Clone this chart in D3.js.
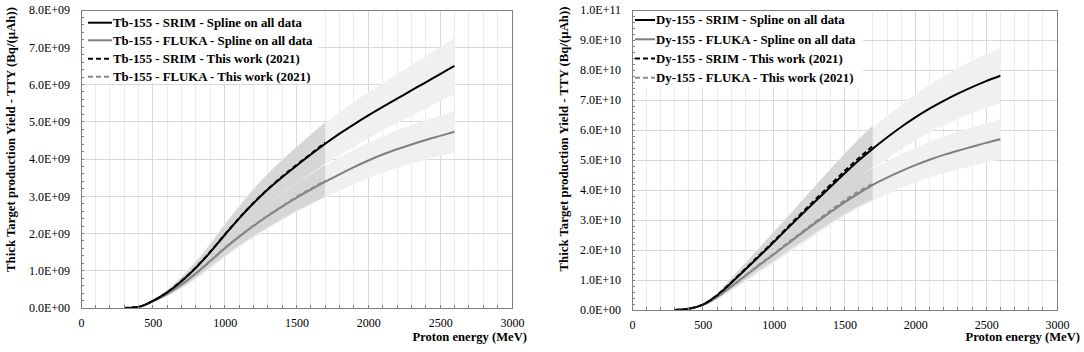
<!DOCTYPE html>
<html><head><meta charset="utf-8">
<script src="https://cdn.jsdelivr.net/npm/d3@7/dist/d3.min.js"></script>
<style>
body{margin:0;background:#fff;}
svg{display:block;}
</style></head><body>
<svg id="chart" width="1084" height="352"></svg>
<script>
// ---------- DATA ----------
const energies = [300,400,500,600,700,800,900,1000,1100,1200,1300,1400,1500,1600,1700,1800,1900,2000,2100,2200,2300,2400,2500,2600];
const energiesThisWork = [300,400,500,600,700,800,900,1000,1100,1200,1300,1400,1500,1600,1700];

// Tb-155 (Bq/(µAh))
const tbSrimSpline  = [0,0.03e9,0.19e9,0.42e9,0.72e9,1.08e9,1.50e9,1.96e9,2.40e9,2.81e9,3.18e9,3.51e9,3.82e9,4.12e9,4.41e9,4.68e9,4.93e9,5.17e9,5.40e9,5.62e9,5.84e9,6.06e9,6.28e9,6.50e9];
const tbFlukaSpline = [0,0.03e9,0.18e9,0.38e9,0.63e9,0.93e9,1.26e9,1.60e9,1.91e9,2.20e9,2.47e9,2.72e9,2.96e9,3.18e9,3.39e9,3.59e9,3.78e9,3.96e9,4.12e9,4.26e9,4.39e9,4.51e9,4.62e9,4.73e9];
const tbSrimThisWork  = [0,0.03e9,0.19e9,0.42e9,0.73e9,1.09e9,1.51e9,1.97e9,2.41e9,2.82e9,3.19e9,3.53e9,3.84e9,4.14e9,4.44e9];
const tbFlukaThisWork = [0,0.03e9,0.18e9,0.38e9,0.63e9,0.93e9,1.27e9,1.61e9,1.92e9,2.21e9,2.48e9,2.73e9,2.98e9,3.20e9,3.42e9];

// Dy-155 (Bq/(µAh))
const dySrimSpline  = [0,0.04e10,0.18e10,0.48e10,0.90e10,1.35e10,1.80e10,2.26e10,2.73e10,3.19e10,3.65e10,4.10e10,4.55e10,4.98e10,5.38e10,5.75e10,6.10e10,6.42e10,6.71e10,6.97e10,7.21e10,7.43e10,7.63e10,7.81e10];
const dyFlukaSpline = [0,0.04e10,0.17e10,0.43e10,0.78e10,1.14e10,1.50e10,1.85e10,2.21e10,2.57e10,2.92e10,3.26e10,3.59e10,3.89e10,4.17e10,4.41e10,4.63e10,4.83e10,5.01e10,5.17e10,5.31e10,5.44e10,5.57e10,5.69e10];
const dySrimThisWork  = [0,0.04e10,0.18e10,0.49e10,0.92e10,1.37e10,1.83e10,2.29e10,2.77e10,3.24e10,3.71e10,4.17e10,4.63e10,5.06e10,5.47e10];
const dyFlukaThisWork = [0,0.04e10,0.17e10,0.43e10,0.79e10,1.15e10,1.52e10,1.87e10,2.24e10,2.60e10,2.96e10,3.31e10,3.65e10,3.95e10,4.21e10];

// relative uncertainty bands
const splineUnc   = [0.20,0.20,0.20,0.20,0.19,0.18,0.17,0.16,0.15,0.145,0.14,0.135,0.13,0.128,0.126,0.124,0.122,0.12,0.118,0.118,0.117,0.117,0.117,0.117];
const thisWorkUnc = [0.13,0.13,0.13,0.13,0.13,0.13,0.13,0.13,0.125,0.125,0.125,0.125,0.125,0.125,0.125];

// ticks and labels
const xTickValues = [0,500,1000,1500,2000,2500,3000];
const tbYTickValues = [0,1e9,2e9,3e9,4e9,5e9,6e9,7e9,8e9];
const dyYTickValues = [0,1e10,2e10,3e10,4e10,5e10,6e10,7e10,8e10,9e10,1e11];
const tbLegendLabels = ["Tb-155 - SRIM - Spline on all data","Tb-155 - FLUKA - Spline on all data","Tb-155 - SRIM - This work (2021)","Tb-155 - FLUKA - This work (2021)"];
const dyLegendLabels = ["Dy-155 - SRIM - Spline on all data","Dy-155 - FLUKA - Spline on all data","Dy-155 - SRIM - This work (2021)","Dy-155 - FLUKA - This work (2021)"];
const xTitle = "Proton energy (MeV)";
const yTitle = "Thick Target production Yield - TTY (Bq/(µAh))";

// ---------- DRAW ----------
const FONT = "'Liberation Serif','Times New Roman',serif";
const svg = d3.select("#chart");

function sci(v){
  if (v === 0) return "0.0E+00";
  let e = Math.floor(Math.log10(v) + 1e-9);
  let m = v / Math.pow(10, e);
  return m.toFixed(1) + "E+" + String(e).padStart(2, "0");
}

const panels = [
  {left:81, right:512, top:10, bottom:308, yMax:8e9, yTicks:tbYTickValues,
   srim:tbSrimSpline, fluka:tbFlukaSpline, srimTW:tbSrimThisWork, flukaTW:tbFlukaThisWork,
   legend:tbLegendLabels, legX0:88, legX1:112, legText:113, legRows:[22.7,40.3,58.8,76.7], legBox:[82,11,318,83],
   yTitleX:10, yTitleY:139.5, xTitleRight:527},
  {left:632, right:1057, top:10, bottom:310, yMax:1e11, yTicks:dyYTickValues,
   srim:dySrimSpline, fluka:dyFlukaSpline, srimTW:dySrimThisWork, flukaTW:dyFlukaThisWork,
   legend:dyLegendLabels, legX0:635, legX1:655, legText:656, legRows:[20,39.3,58.5,77.7], legBox:[633,11,863,87],
   yTitleX:563, yTitleY:139, xTitleRight:1080}
];

panels.forEach(p => {
  const x = d3.scaleLinear().domain([0,3000]).range([p.left,p.right]);
  const y = d3.scaleLinear().domain([0,p.yMax]).range([p.bottom,p.top]);
  const g = svg.append("g");

  // gridlines
  g.append("g").selectAll("line").data(x.ticks(30)).join("line")
    .attr("x1", d=>x(d)).attr("x2", d=>x(d)).attr("y1", p.top).attr("y2", p.bottom)
    .attr("stroke", "#ececec").attr("stroke-width", 1).attr("shape-rendering","crispEdges");
  g.append("g").selectAll("line").data(xTickValues).join("line")
    .attr("x1", d=>x(d)).attr("x2", d=>x(d)).attr("y1", p.top).attr("y2", p.bottom)
    .attr("stroke", "#d9d9d9").attr("stroke-width", 1).attr("shape-rendering","crispEdges");
  g.append("g").selectAll("line").data(p.yTicks).join("line")
    .attr("x1", p.left).attr("x2", p.right).attr("y1", d=>y(d)).attr("y2", d=>y(d))
    .attr("stroke", "#d9d9d9").attr("stroke-width", 1).attr("shape-rendering","crispEdges");

  // bands
  const band = (vals, unc, ens) => d3.area()
    .x((d,i)=>x(ens[i]))
    .y0((d,i)=>y(vals[i]*(1-unc[i])))
    .y1((d,i)=>y(vals[i]*(1+unc[i])))
    .curve(d3.curveMonotoneX)(vals);
  g.append("path").attr("d", band(p.srim, splineUnc, energies)).attr("fill", "#f0f0f0");
  g.append("path").attr("d", band(p.fluka, splineUnc, energies)).attr("fill", "#f0f0f0");
  g.append("path").attr("d", band(p.srimTW, thisWorkUnc, energiesThisWork)).attr("fill", "#d6d6d6");
  g.append("path").attr("d", band(p.flukaTW, thisWorkUnc, energiesThisWork)).attr("fill", "#d6d6d6");

  // curves
  const line = (vals, ens) => d3.line().x((d,i)=>x(ens[i])).y(d=>y(d)).curve(d3.curveMonotoneX)(vals);
  g.append("path").attr("d", line(p.fluka, energies)).attr("fill","none").attr("stroke","#7f7f7f").attr("stroke-width",2);
  g.append("path").attr("d", line(p.srim, energies)).attr("fill","none").attr("stroke","#000").attr("stroke-width",2);
  g.append("path").attr("d", line(p.flukaTW, energiesThisWork)).attr("fill","none").attr("stroke","#8c8c8c").attr("stroke-width",2).attr("stroke-dasharray","5,3");
  g.append("path").attr("d", line(p.srimTW, energiesThisWork)).attr("fill","none").attr("stroke","#000").attr("stroke-width",2).attr("stroke-dasharray","5,3");

  // legend
  const [bx0,by0,bx1,by1] = p.legBox;
  g.append("rect").attr("x",bx0).attr("y",by0).attr("width",bx1-bx0).attr("height",by1-by0).attr("fill","#fff");
  const legStyles = [
    {c:"#000", dash:null}, {c:"#7f7f7f", dash:null}, {c:"#000", dash:"5,3"}, {c:"#8c8c8c", dash:"5,3"}
  ];
  p.legend.forEach((lab,i) => {
    const ly = p.legRows[i];
    g.append("line").attr("x1",p.legX0).attr("x2",p.legX1).attr("y1",ly).attr("y2",ly)
      .attr("stroke",legStyles[i].c).attr("stroke-width",2).attr("stroke-dasharray",legStyles[i].dash);
    g.append("text").attr("x",p.legText).attr("y",ly+4.3).text(lab)
      .attr("font-family",FONT).attr("font-weight","bold").attr("font-size","12.8px").attr("fill","#000");
  });

  // minor ticks (inside)
  g.append("g").selectAll("line").data(x.ticks(30)).join("line")
    .attr("x1", d=>x(d)).attr("x2", d=>x(d)).attr("y1", p.bottom).attr("y2", p.bottom-3)
    .attr("stroke","#808080").attr("shape-rendering","crispEdges");
  g.append("g").selectAll("line").data(y.ticks((p.yTicks.length-1)*5)).join("line")
    .attr("x1", p.left).attr("x2", p.left+3).attr("y1", d=>y(d)).attr("y2", d=>y(d))
    .attr("stroke","#808080").attr("shape-rendering","crispEdges");

  // border
  g.append("rect").attr("x",p.left).attr("y",p.top).attr("width",p.right-p.left).attr("height",p.bottom-p.top)
    .attr("fill","none").attr("stroke","#808080").attr("stroke-width",1).attr("shape-rendering","crispEdges");

  // axes labels
  const ax = g.append("g").attr("transform",`translate(0,${p.bottom})`)
    .call(d3.axisBottom(x).tickValues(xTickValues).tickFormat(d=>String(d)).tickSize(0).tickPadding(10));
  ax.select(".domain").remove();
  ax.selectAll("text").attr("font-family",FONT).attr("font-size","12px").attr("fill","#000");
  const ay = g.append("g").attr("transform",`translate(${p.left},0)`)
    .call(d3.axisLeft(y).tickValues(p.yTicks).tickFormat(sci).tickSize(0).tickPadding(11));
  ay.select(".domain").remove();
  ay.selectAll("text").attr("font-family",FONT).attr("font-size","12px").attr("fill","#000");

  // titles
  g.append("text").attr("x",p.xTitleRight).attr("y",341).attr("text-anchor","end").text(xTitle)
    .attr("font-family",FONT).attr("font-weight","bold").attr("font-size","12.6px");
  g.append("text").attr("transform",`translate(${p.yTitleX+4.5},${p.yTitleY}) rotate(-90)`).attr("text-anchor","middle").text(yTitle)
    .attr("font-family",FONT).attr("font-weight","bold").attr("font-size","12.8px");
});
</script>
</body></html>
